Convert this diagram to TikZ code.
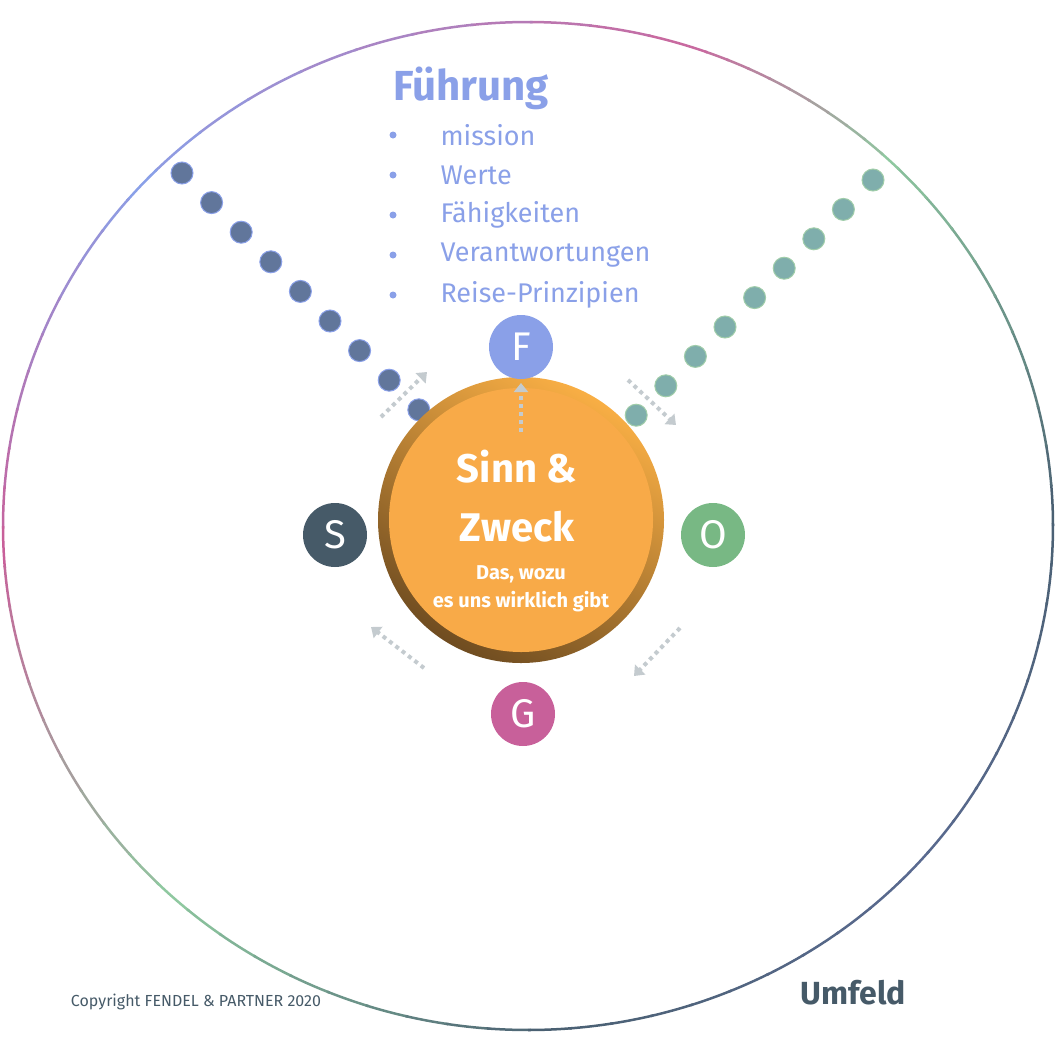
\documentclass[tikz,border=0pt]{standalone}
\usepackage{fontspec}
\setmainfont{Fira Sans}
\usetikzlibrary{arrows.meta}
\definecolor{fblue}{HTML}{8AA0E8}
\definecolor{sslate}{HTML}{465A68}
\definecolor{ogreen}{HTML}{78B884}
\definecolor{gpink}{HTML}{C8609A}
\definecolor{ringA}{HTML}{4A6072}
\definecolor{ringB}{HTML}{8FC8A0}
\definecolor{ringC}{HTML}{C86AA0}
\definecolor{ringD}{HTML}{8AA0E8}
\definecolor{ringE}{HTML}{5A6A90}
\definecolor{arrgray}{HTML}{C4CBCF}
\definecolor{orin}{HTML}{F8AA48}
\tikzset{
  letter/.style={circle,minimum size=64pt,inner sep=0pt,text=white,font=\fontsize{40}{40}\selectfont},
  flow/.style={draw=arrgray,line width=4pt,dash pattern=on 4pt off 4pt,-{Triangle[length=9pt,width=14pt]}},
  item/.style={anchor=west,text=fblue,font=\fontsize{27}{27}\selectfont},
}
\begin{document}
\begin{tikzpicture}[x=1pt,y=-1pt]
\useasboundingbox (0,0) rectangle (1055,1039);

% Umfeld ring
\foreach \a/\b/\ca/\cb in {0/45/ringA/ringB,45/70/ringB/ringC,70/135/ringC/ringD,135/180/ringD/gpink,180/225/gpink/ringB,225/270/ringB/ringA,270/315/ringA/ringE,315/360/ringE/ringA}{
  \foreach \i in {0,...,9}{
    \pgfmathsetmacro{\p}{100-\i*10}
    \pgfmathsetmacro{\s}{\a+(\b-\a)*\i/10}
    \pgfmathsetmacro{\e}{\a+(\b-\a)*(\i+1)/10+0.3}
    \colorlet{seg}{\ca!\p!\cb}
    \draw[seg,line width=2.5pt] ({528+525*cos(\s)},{526-504*sin(\s)}) arc[start angle=-\s,end angle=-\e,x radius=525,y radius=504];
  }
}

% dotted lines
\foreach \k in {0,...,8}{
  \fill[sslate!60!fblue,draw=fblue,line width=1pt] ({182+29.6*\k},{173+29.6*\k}) circle (11);
  \fill[ogreen!60!fblue,draw=ogreen!70!white,line width=1pt] ({873-29.6*\k},{180+29.4*\k}) circle (11);
}

% Sinn & Zweck
\shade[top color=orin!95!yellow,bottom color=orin!45!black,shading angle=-30] (521,520) circle (143);
\node[circle,fill=orin,minimum size=264pt,inner sep=0pt] (core) at (521,520) {};
\node[text=white,font=\bfseries\fontsize{40}{40}\selectfont] (sinn) at (517,467) {Sinn \&};
\node[text=white,font=\bfseries\fontsize{40}{40}\selectfont] (zweck) at (517,527) {Zweck};
\node[text=white,font=\bfseries\fontsize{20}{28}\selectfont,align=center] (wozu) at (521,589) {Das, wozu\\es uns wirklich gibt};

% letters
\node[letter,fill=fblue] (F) at (521,347) {F};
\node[letter,fill=sslate] (S) at (335,535) {S};
\node[letter,fill=ogreen] (O) at (713,535) {O};
\node[letter,fill=gpink] (G) at (523,714) {G};

% flows
\coordinate (fa1) at (381,417); \coordinate (fa2) at (427,372);
\coordinate (fb1) at (521,432); \coordinate (fb2) at (521,383);
\coordinate (fc1) at (628,380); \coordinate (fc2) at (676,425);
\coordinate (fd1) at (680,628); \coordinate (fd2) at (634,676);
\coordinate (fe1) at (424,668); \coordinate (fe2) at (371,627);
\foreach \f in {fa,fb,fc,fd,fe}{
  \draw[flow] (\f1) -- (\f2);
}

% Fuehrung
\node[text=fblue,font=\bfseries\fontsize{42}{42}\selectfont] (title) at (471,88) {Führung};
\foreach \t [count=\n from 0] in {mission,Werte,Fähigkeiten,Verantwortungen,Reise-Prinzipien}{
  \node[item] (it\n) at (437,{135+40*\n}) {\t};
  \fill[fblue] (393,{135+40*\n}) circle (3.5);
}

\node[text=sslate,font=\fontsize{16}{16}\selectfont] (copy) at (196,1002) {Copyright FENDEL \& PARTNER 2020};
\node[text=sslate,font=\bfseries\fontsize{32}{32}\selectfont] (umfeld) at (853,993) {Umfeld};
\end{tikzpicture}
\end{document}
